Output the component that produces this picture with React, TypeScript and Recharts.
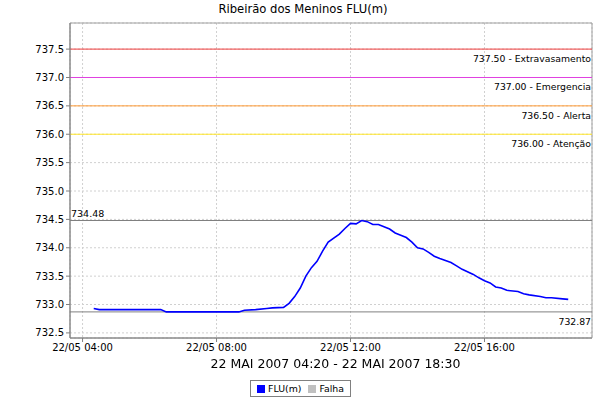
import React from "react";
import {
  LineChart,
  Line,
  XAxis,
  YAxis,
  CartesianGrid,
  ReferenceLine,
  ReferenceArea,
} from "recharts";

const times = [
  "04:20", "04:30", "05:00", "05:30", "06:00", "06:20", "06:30", "07:00", "07:30", "08:00",
  "08:40", "08:50", "09:10", "09:30", "09:40", "10:00", "10:10", "10:20", "10:30", "10:40",
  "10:50", "11:00", "11:10", "11:20", "11:40", "11:50", "12:00", "12:10", "12:20", "12:30",
  "12:40", "12:50", "13:00", "13:10", "13:20", "13:30", "13:40", "13:50", "14:00", "14:10",
  "14:20", "14:30", "14:40", "15:00", "15:10", "15:20", "15:40", "15:50", "16:00", "16:10",
  "16:20", "16:30", "16:40", "17:00", "17:10", "17:20", "17:40", "17:50", "18:00", "18:20",
  "18:30",
];

const levels = [
  732.93, 732.91, 732.91, 732.91, 732.91, 732.91, 732.87, 732.87, 732.87, 732.87,
  732.87, 732.9, 732.91, 732.93, 732.94, 732.95, 733.02, 733.14, 733.29, 733.5,
  733.65, 733.76, 733.94, 734.1, 734.24, 734.34, 734.43, 734.42, 734.48, 734.46,
  734.41, 734.41, 734.37, 734.33, 734.26, 734.22, 734.18, 734.1, 734.0, 733.98,
  733.92, 733.85, 733.81, 733.74, 733.68, 733.62, 733.53, 733.47, 733.42, 733.38,
  733.31, 733.29, 733.25, 733.23, 733.19, 733.17, 733.14, 733.12, 733.12, 733.1,
  733.09,
];

const thresholdValues = [737.5, 737.0, 736.5, 736.0];
const thresholdNames = ["Extravasamento", "Emergencia", "Alerta", "Atenção"];
const thresholdColors = ["#f03c3c", "#e040e0", "#ff9933", "#ffe627"];

const maxValue = 734.48;
const minValue = 732.87;

const yTicks = [732.5, 733.0, 733.5, 734.0, 734.5, 735.0, 735.5, 736.0, 736.5, 737.0, 737.5];
const xTicks = [4, 8, 12, 16];

const title = "Ribeirão dos Meninos FLU(m)";
const xLabel = "22 MAI 2007 04:20 - 22 MAI 2007 18:30";
const seriesName = "FLU(m)";
const failName = "Falha";

const toHours = (t: string) => {
  const [h, m] = t.split(":").map(Number);
  return h + m / 60;
};

const data = times.map((t, i) => ({ h: toHours(t), v: levels[i] }));

const X_MIN = 3.625;
const X_MAX = 19.21;
const Y_MIN = 732.41;
const Y_MAX = 737.96;

const FONT = "'DejaVu Sans', sans-serif";

const pad = (n: number) => (n < 10 ? "0" + n : "" + n);

const belowRightLabel = (text: string) => (props: any) => {
  const vb = props.viewBox || {};
  return (
    <text
      x={vb.x + vb.width - 1}
      y={vb.y + 13}
      textAnchor="end"
      fontSize={9.3}
      fontFamily={FONT}
      fill="#000"
    >
      {text}
    </text>
  );
};

const aboveLeftLabel = (text: string) => (props: any) => {
  const vb = props.viewBox || {};
  return (
    <text x={vb.x + 1} y={vb.y - 4} textAnchor="start" fontSize={9.5} fontFamily={FONT} fill="#000">
      {text}
    </text>
  );
};

export default function App() {
  return (
    <div
      style={{
        position: "fixed",
        left: 0,
        top: 0,
        width: 600,
        height: 400,
        background: "#fff",
        fontFamily: FONT,
      }}
    >
      <div
        style={{
          position: "absolute",
          left: 0,
          width: 606,
          top: 2,
          textAlign: "center",
          fontSize: 11.6,
          color: "#000",
        }}
      >
        {title}
      </div>
      <LineChart
        width={600}
        height={400}
        data={data}
        margin={{ top: 23, right: 8, bottom: 32, left: 0 }}
      >
        <CartesianGrid stroke="#d0d0d0" strokeDasharray="2 2" vertical horizontal />
        <ReferenceArea
          x1={X_MIN}
          x2={X_MAX}
          y1={Y_MIN}
          y2={Y_MAX}
          fill="none"
          stroke="#a0a0a0"
          ifOverflow="visible"
        />
        <XAxis
          dataKey="h"
          type="number"
          domain={[X_MIN, X_MAX]}
          ticks={xTicks}
          allowDataOverflow
          tickFormatter={(h: number) => `22/05 ${pad(h)}:00`}
          height={30}
          tickSize={4}
          tick={{ fontSize: 10, fontFamily: FONT, fill: "#000" }}
          stroke="#808080"
        />
        <YAxis
          type="number"
          domain={[Y_MIN, Y_MAX]}
          ticks={yTicks}
          allowDataOverflow
          tickFormatter={(v: number) => v.toFixed(1)}
          width={70}
          tickSize={4}
          tick={{ fontSize: 10, fontFamily: FONT, fill: "#000" }}
          stroke="#808080"
        />
        {thresholdValues.map((v, i) => (
          <ReferenceLine
            key={v}
            y={v}
            stroke={thresholdColors[i]}
            strokeWidth={1}
            label={belowRightLabel(`${v.toFixed(2)} - ${thresholdNames[i]}`)}
          />
        ))}
        <ReferenceLine
          y={maxValue}
          stroke="#808080"
          label={aboveLeftLabel(maxValue.toFixed(2))}
        />
        <ReferenceLine
          y={minValue}
          stroke="#808080"
          label={belowRightLabel(minValue.toFixed(2))}
        />
        <Line
          type="linear"
          dataKey="v"
          stroke="#0000ff"
          strokeWidth={1.6}
          dot={false}
          isAnimationActive={false}
        />
      </LineChart>
      <div
        style={{
          position: "absolute",
          left: 0,
          width: 671,
          top: 356,
          textAlign: "center",
          fontSize: 12.5,
          color: "#000",
        }}
      >
        {xLabel}
      </div>
      <div
        style={{
          position: "absolute",
          left: 250,
          top: 380,
          width: 101,
          height: 17,
          border: "1px solid #808080",
          display: "flex",
          alignItems: "center",
          padding: "0 0 0 6px",
          fontSize: 9.4,
          color: "#000",
          boxSizing: "border-box",
          whiteSpace: "nowrap",
        }}
      >
        <span style={{ width: 8, height: 8, background: "#0000ff", marginRight: 3, display: "inline-block" }} />
        <span style={{ marginRight: 7 }}>{seriesName}</span>
        <span style={{ width: 8, height: 8, background: "#c0c0c0", marginRight: 3, display: "inline-block" }} />
        <span>{failName}</span>
      </div>
    </div>
  );
}
